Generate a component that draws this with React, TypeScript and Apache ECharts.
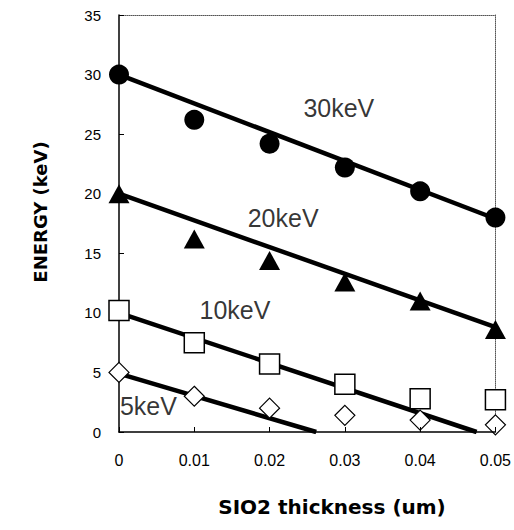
import React, { useEffect, useRef } from "react";
import * as echarts from "echarts";

const thickness = [0, 0.01, 0.02, 0.03, 0.04, 0.05];
const e30 = [30, 26.2, 24.2, 22.2, 20.2, 18.0];
const e20 = [20, 16.2, 14.4, 12.6, 11.0, 8.6];
const e10 = [10.2, 7.5, 5.7, 4.0, 2.8, 2.7];
const e5 = [5.0, 3.0, 2.0, 1.4, 1.0, 0.6];

const fit30 = [[0, 30], [0.05, 17.9]];
const fit20 = [[0, 20], [0.05, 8.8]];
const fit10 = [[0, 10], [0.0475, 0]];
const fit5 = [[0, 4.9], [0.0262, 0]];

const labelTexts = ["30keV", "20keV", "10keV", "5keV"];
const labelX = [0.0292, 0.0218, 0.0154, 0.0039];
const labelY = [27.2, 18.0, 10.2, 2.2];

const xTitle = "SIO2 thickness (um)";
const yTitle = "ENERGY (keV)";

const FONT = "'Liberation Sans', Arial, sans-serif";

export default function App() {
  const ref = useRef<HTMLDivElement>(null);
  useEffect(() => {
    const chart = echarts.init(ref.current!, null, { renderer: "svg" });
    const pts = (ys: number[]) => thickness.map((x, i) => [x, ys[i]]);
    const fitLine = (d: number[][]) => ({
      type: "line",
      data: d,
      symbol: "none",
      lineStyle: { color: "#000", width: 4.5 },
      z: 2,
      silent: true,
    });
    const option: any = {
      animation: false,
      backgroundColor: "#fff",
      grid: { left: 119, right: 14, top: 15, bottom: 98 },
      xAxis: [
        {
          type: "value",
          min: 0,
          max: 0.05,
          interval: 0.01,
          axisLine: { onZero: false, lineStyle: { color: "#000", width: 1.5 } },
          axisTick: { inside: true, length: 5, lineStyle: { color: "#000" } },
          axisLabel: {
            color: "#000",
            fontSize: 16,
            fontFamily: FONT,
            margin: 20,
            formatter: (v: number) => (v === 0 ? "0" : v.toFixed(2)),
          },
          splitLine: { show: false },
          z: 10,
        },
        {
          type: "value",
          position: "top",
          min: 0,
          max: 0.05,
          axisLine: { show: true, onZero: false, lineStyle: { color: "#555", width: 1, type: "dotted" } },
          axisTick: { show: false },
          axisLabel: { show: false },
          splitLine: { show: false },
        },
      ],
      yAxis: [
        {
          type: "value",
          min: 0,
          max: 35,
          interval: 5,
          axisLine: { show: true, onZero: false, lineStyle: { color: "#000", width: 1.5 } },
          axisTick: { show: true, inside: true, length: 5, lineStyle: { color: "#000" } },
          axisLabel: { color: "#000", fontSize: 15, fontFamily: FONT, margin: 18 },
          splitLine: { show: false },
        },
        {
          type: "value",
          position: "right",
          min: 0,
          max: 35,
          axisLine: { show: true, onZero: false, lineStyle: { color: "#555", width: 1, type: "dotted" } },
          axisTick: { show: false },
          axisLabel: { show: false },
          splitLine: { show: false },
        },
      ],
      series: [
        fitLine(fit30),
        fitLine(fit20),
        fitLine(fit10),
        fitLine(fit5),
        {
          type: "scatter",
          data: pts(e30),
          symbol: "circle",
          symbolSize: 20,
          itemStyle: { color: "#000", opacity: 1 },
          z: 5,
        },
        {
          type: "scatter",
          data: pts(e20),
          symbol: "triangle",
          symbolSize: [21, 19],
          itemStyle: { color: "#000", opacity: 1 },
          z: 5,
        },
        {
          type: "scatter",
          data: pts(e10),
          symbol: "rect",
          symbolSize: 20,
          itemStyle: { color: "#fff", borderColor: "#000", borderWidth: 1.5, opacity: 1 },
          z: 5,
        },
        {
          type: "scatter",
          data: pts(e5),
          symbol: "diamond",
          symbolSize: 20,
          itemStyle: { color: "#fff", borderColor: "#000", borderWidth: 1.2, opacity: 1 },
          z: 5,
        },
        {
          type: "scatter",
          data: labelTexts.map((t, i) => ({ value: [labelX[i], labelY[i]], name: t })),
          symbolSize: 0,
          silent: true,
          z: 6,
          label: {
            show: true,
            position: "inside",
            formatter: (p: any) => p.name,
            color: "#000",
            fontSize: 25,
            fontFamily: FONT,
          },
        },
      ],
      graphic: [
        {
          type: "text",
          x: 332,
          y: 507,
          style: {
            text: xTitle,
            fill: "#000",
            font: "900 20px 'DejaVu Sans', sans-serif",
            align: "center",
            verticalAlign: "middle",
          },
        },
        {
          type: "text",
          x: 40,
          y: 212,
          rotation: Math.PI / 2,
          style: {
            text: yTitle,
            fill: "#000",
            font: "900 18px 'DejaVu Sans', sans-serif",
            align: "center",
            verticalAlign: "middle",
          },
        },
      ],
    };
    chart.setOption(option);
    return () => chart.dispose();
  }, []);
  return <div ref={ref} style={{ width: 514, height: 530, position: "absolute", left: 0, top: 0 }} />;
}
